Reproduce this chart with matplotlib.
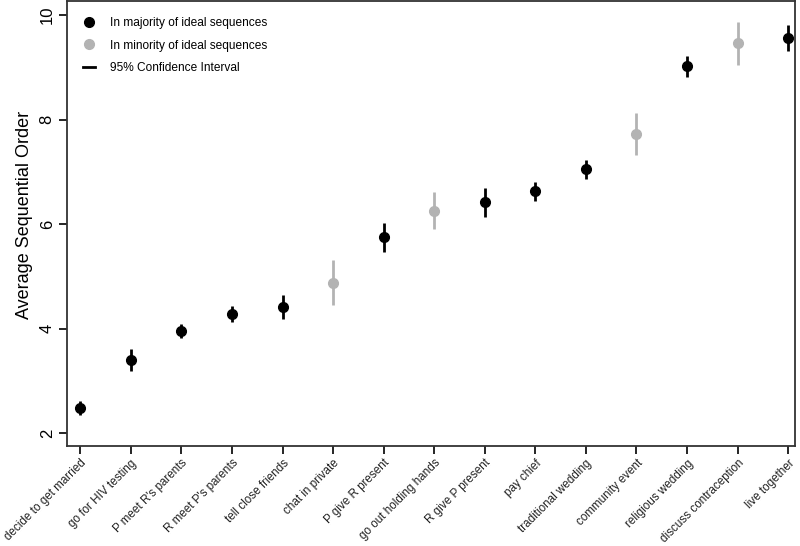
import matplotlib
matplotlib.use("Agg")
import matplotlib.pyplot as plt
from matplotlib.lines import Line2D
import numpy as np

plt.rcParams['font.family'] = ['Liberation Sans', 'DejaVu Sans']

events = ["decide to get married", "go for HIV testing", "P meet R's parents",
          "R meet P's parents", "tell close friends", "chat in private",
          "P give R present", "go out holding hands", "R give P present",
          "pay chief", "traditional wedding", "community event",
          "religious wedding", "discuss contraception", "live together"]
mean_order = [2.48, 3.40, 3.95, 4.28, 4.41, 4.88, 5.75, 6.26, 6.42,
              6.63, 7.05, 7.72, 9.02, 9.46, 9.56]
ci_half = [0.14, 0.21, 0.14, 0.15, 0.23, 0.43, 0.28, 0.35, 0.28,
           0.18, 0.18, 0.40, 0.20, 0.41, 0.25]
majority = [1, 1, 1, 1, 1, 0, 1, 0, 1, 1, 1, 0, 1, 0, 1]

black = "#000000"
grey = "#b3b3b3"

fig = plt.figure(figsize=(8, 5.46), dpi=100)
ax = fig.add_axes([0.084, 0.183, 0.91, 0.815])

x = np.arange(len(events))
m = np.array(mean_order)
e = np.array(ci_half)
maj = np.array(majority, dtype=bool)

ax.errorbar(x[maj], m[maj], yerr=e[maj], fmt='o', color=black, ms=7,
            elinewidth=2, capsize=0)
ax.errorbar(x[~maj], m[~maj], yerr=e[~maj], fmt='o', color=grey, ms=7,
            elinewidth=2, capsize=0)

ax.set_xlim(-0.26, 14.14)
ax.set_ylim(1.75, 10.27)
ax.set_yticks([2, 4, 6, 8, 10])
ax.set_xticks(x)
ax.set_xticklabels(events, rotation=45, ha='right', rotation_mode='anchor',
                   fontsize=8.4, color='#222222')
for lab in ax.get_yticklabels():
    lab.set_rotation(90)
    lab.set_va('center')
ax.tick_params(axis='y', labelsize=12, length=6, width=1.2, pad=3)
ax.tick_params(axis='x', length=6, width=1.2, pad=2)
ax.set_ylabel("Average Sequential Order", fontsize=13)
ax.yaxis.set_label_coords(-0.047, 0.52)

for s in ax.spines.values():
    s.set_linewidth(1.3)
    s.set_color('#333333')

handles = [
    Line2D([], [], marker='o', ls='none', color=black, ms=7),
    Line2D([], [], marker='o', ls='none', color=grey, ms=7),
    Line2D([], [], ls='-', color=black, lw=2),
]
labels = ["In majority of ideal sequences", "In minority of ideal sequences",
          "95% Confidence Interval"]
ax.legend(handles, labels, loc='upper left', frameon=False, fontsize=8.6,
          handlelength=1.0, handletextpad=1.3, labelspacing=0.85,
          borderaxespad=0.6, bbox_to_anchor=(0.005, 0.99))

fig.savefig("out.png", dpi=100)
